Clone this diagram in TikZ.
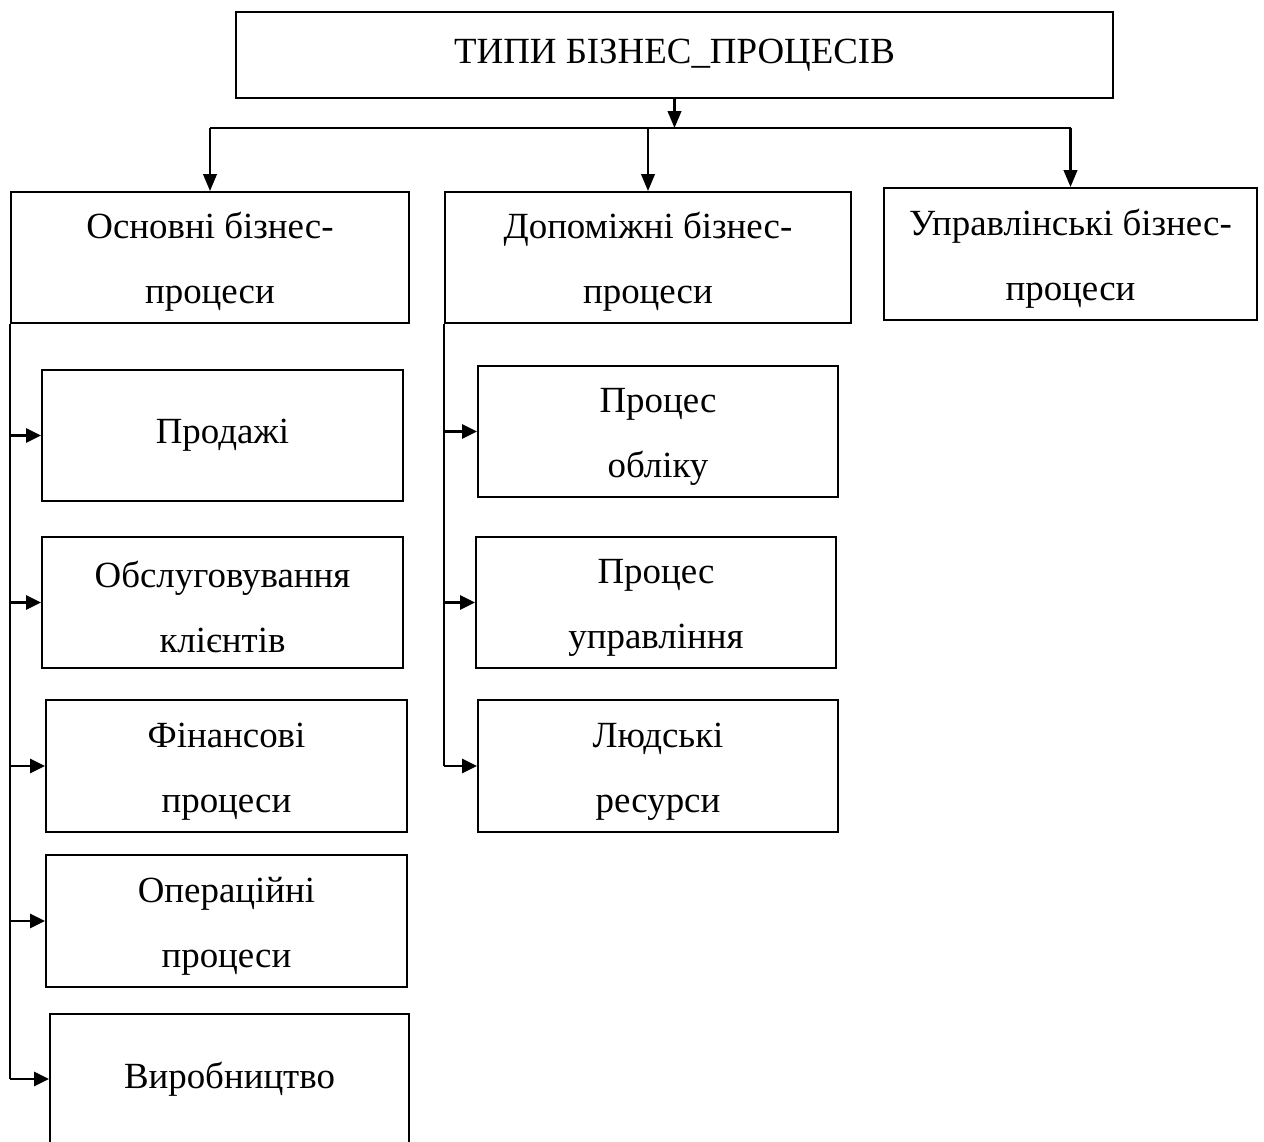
\documentclass[tikz,border=0pt]{standalone}
\usepackage{fontspec}
\setmainfont{Liberation Serif}
\usetikzlibrary{arrows.meta}

\begin{document}
\begin{tikzpicture}[x=0.02cm,y=-0.02cm,
	box/.style={shape=rectangle,draw=black,line width=1.1pt,align=center,inner sep=0pt,
		font=\fontsize{21}{37}\selectfont},
	two/.style={box, text height=57pt},
	arr/.style={line width=1.4pt,-{Triangle[length=0.34cm,width=0.27cm]}},
	tip/.style={line width=1.4pt,-{Triangle[length=0.3cm,width=0.28cm]}}]
	\useasboundingbox (0,0) rectangle (1264,1142);

	\node[box, minimum width=17.54cm, minimum height=1.72cm] (T) at (674.5,55) {ТИПИ БІЗНЕС\_ПРОЦЕСІВ};

	\node[two, minimum width=7.96cm, minimum height=2.62cm] (O) at (210,257.5) {Основні бізнес-\\процеси};
	\node[two, minimum width=8.12cm, minimum height=2.62cm] (D) at (648,257.5) {Допоміжні бізнес-\\процеси};
	\node[two, minimum width=7.46cm, minimum height=2.64cm] (U) at (1070.5,254) {Управлінські бізнес-\\процеси};

	\node[box, minimum width=7.22cm, minimum height=2.62cm] (O1) at (222.5,435.5) {Продажі};
	\node[two, minimum width=7.22cm, minimum height=2.62cm] (O2) at (222.5,602.5) {Обслуговування\\клієнтів};
	\node[two, minimum width=7.22cm, minimum height=2.64cm] (O3) at (226.5,766) {Фінансові\\процеси};
	\node[two, minimum width=7.22cm, minimum height=2.64cm] (O4) at (226.5,921) {Операційні\\процеси};
	\node[box, minimum width=7.18cm, minimum height=2.60cm] (O5) at (229.5,1079) {Виробництво};

	\node[two, minimum width=7.20cm, minimum height=2.62cm] (D1) at (658,431.5) {Процес\\обліку};
	\node[two, minimum width=7.20cm, minimum height=2.62cm] (D2) at (656,602.5) {Процес\\управління};
	\node[two, minimum width=7.20cm, minimum height=2.64cm] (D3) at (658,766) {Людські\\ресурси};

	% top bus
	\coordinate (bus) at (T.south |- 0,128);
	\coordinate (busL) at (O.north |- bus);
	\coordinate (busR) at (U.north |- bus);
	\path[arr] (T.south) edge (bus);
	\draw[line width=1.4pt] (busL) -- (busR);
	\path[arr] (busL) edge (O.north);
	\path[arr] (D.north |- bus) edge (D.north);
	\path[arr] (busR) edge (U.north);

	% left branch
	\draw[line width=1.1pt] (O.south west) -- (O.south west |- O5.west);
	\path[tip] (O.south west |- O1.west) edge (O1.west);
	\path[tip] (O.south west |- O2.west) edge (O2.west);
	\path[tip] (O.south west |- O3.west) edge (O3.west);
	\path[tip] (O.south west |- O4.west) edge (O4.west);
	\path[tip] (O.south west |- O5.west) edge (O5.west);

	% middle branch
	\draw[line width=1.1pt] (D.south west) -- (D.south west |- D3.west);
	\path[tip] (D.south west |- D1.west) edge (D1.west);
	\path[tip] (D.south west |- D2.west) edge (D2.west);
	\path[tip] (D.south west |- D3.west) edge (D3.west);
\end{tikzpicture}
\end{document}
